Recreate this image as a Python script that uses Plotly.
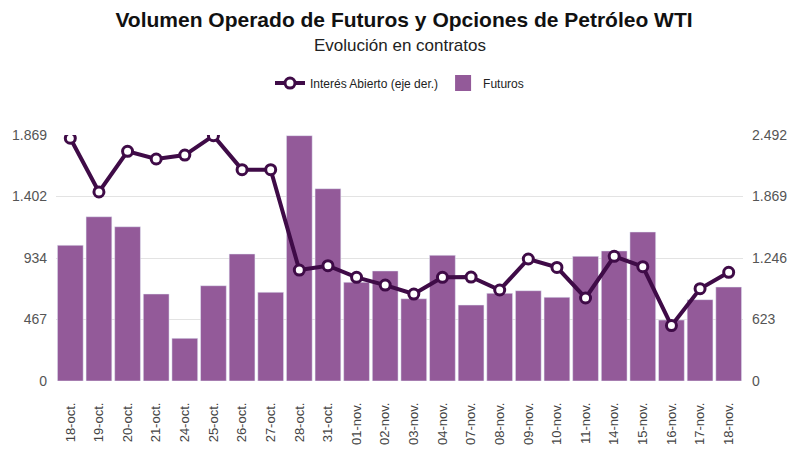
import plotly.graph_objects as go

# Datos
fechas = ['18-oct.', '19-oct.', '20-oct.', '21-oct.', '24-oct.', '25-oct.', '26-oct.', '27-oct.',
          '28-oct.', '31-oct.', '01-nov.', '02-nov.', '03-nov.', '04-nov.', '07-nov.', '08-nov.',
          '09-nov.', '10-nov.', '11-nov.', '14-nov.', '15-nov.', '16-nov.', '17-nov.', '18-nov.']
futuros = [1031, 1248, 1172, 661, 324, 724, 965, 674, 1864, 1461, 750, 836,
           625, 955, 577, 666, 686, 636, 947, 988, 1132, 463, 618, 714]
interes_abierto = [2459, 1915, 2327, 2249, 2289, 2485, 2141, 2141, 1124, 1168, 1050, 972,
                   881, 1050, 1053, 922, 1236, 1151, 841, 1263, 1158, 561, 935, 1101]
ticks_izq = [0, 467, 934, 1402, 1869]
ticks_der = [0, 623, 1246, 1869, 2492]

morado = '#935a99'
morado_osc = '#3f0b47'

fig = go.Figure()

fig.add_trace(go.Scatter(
    x=fechas, y=interes_abierto, name='Interés Abierto (eje der.)', yaxis='y2',
    mode='lines+markers',
    line=dict(color=morado_osc, width=4),
    marker=dict(symbol='circle', size=10, color='white', line=dict(color=morado_osc, width=3)),
))
fig.add_trace(go.Bar(
    x=fechas, y=futuros, name='Futuros', marker_color=morado, showlegend=False,
))
# solo para la leyenda (cuadrado grande como en el original)
fig.add_trace(go.Scatter(
    x=[None], y=[None], name='Futuros', mode='markers',
    marker=dict(symbol='square', size=24, color=morado),
))

# la página añade 8px de margen al body, por eso 792x449
fig.update_layout(
    width=792, height=449,
    font=dict(family='Liberation Sans, Arial, sans-serif', color='#333'),
    title=dict(
        text='<b>Volumen Operado de Futuros y Opciones de Petróleo WTI</b>',
        x=0.5, xanchor='center', y=1 - 12 / 449, yanchor='middle',
        font=dict(size=21, color='#111'),
    ),
    annotations=[dict(text='Evolución en contratos', x=0.5, y=1.365, xref='paper', yref='paper',
                      xanchor='center', yanchor='middle', showarrow=False,
                      font=dict(size=17, color='#222'))],
    plot_bgcolor='white', paper_bgcolor='white',
    margin=dict(l=48, r=57, t=127, b=76),
    bargap=0.1,
    legend=dict(orientation='h', x=0.5, xanchor='center', y=1.211, yanchor='middle',
                font=dict(size=12, color='#222'), traceorder='normal', itemwidth=30),
    xaxis=dict(range=[-0.5, len(fechas) - 0.5], tickangle=-90,
               tickfont=dict(size=13, color='#444'), showgrid=False,
               ticks='', showline=False, automargin=False, ticklabelstandoff=18),
    yaxis=dict(range=[0, 1869], tickvals=ticks_izq, ticktext=['0', '467', '934', '1.402', '1.869'],
               tickfont=dict(size=14, color='#555'), gridcolor='#e3e3e3', zeroline=False,
               automargin=False, ticklabelstandoff=8),
    yaxis2=dict(range=[0, 2492], tickvals=ticks_der, ticktext=['0', '623', '1.246', '1.869', '2.492'],
                overlaying='y', side='right', showgrid=False, zeroline=False,
                tickfont=dict(size=14, color='#555'), automargin=False, ticklabelstandoff=8),
)

fig.write_html('out.html')
